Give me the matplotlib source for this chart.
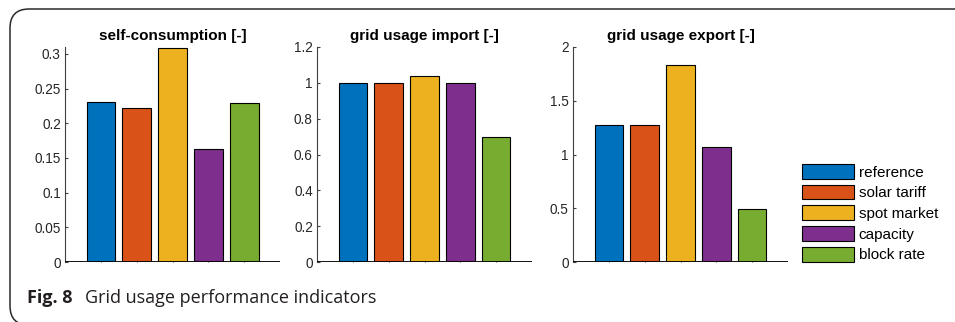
import numpy as np
import matplotlib.pyplot as plt
from matplotlib.patches import FancyBboxPatch

scenarios = ['reference', 'solar tariff', 'spot market', 'capacity', 'block rate']
colors = ['#0072BD', '#D95319', '#EDB120', '#7E2F8E', '#77AC30']

self_consumption = [0.230, 0.222, 0.309, 0.163, 0.229]
grid_import = [1.0, 1.0, 1.037, 1.0, 0.70]
grid_export = [1.279, 1.279, 1.83, 1.074, 0.495]

panels = [
    ('self-consumption [-]', self_consumption, 0.31, [0, 0.05, 0.1, 0.15, 0.2, 0.25, 0.3],
     ['0', '0.05', '0.1', '0.15', '0.2', '0.25', '0.3']),
    ('grid usage import [-]', grid_import, 1.2, [0, 0.2, 0.4, 0.6, 0.8, 1.0, 1.2],
     ['0', '0.2', '0.4', '0.6', '0.8', '1', '1.2']),
    ('grid usage export [-]', grid_export, 2.0, [0, 0.5, 1, 1.5, 2],
     ['0', '0.5', '1', '1.5', '2']),
]

plt.rcParams['font.family'] = ['Liberation Sans', 'DejaVu Sans']
W, H = 955, 322
fig = plt.figure(figsize=(W / 100, H / 100), dpi=100)

# axes boxes in pixels: left, right
boxes = [(65, 280), (317, 532), (573, 788)]
top_px, bot_px = 47, 262
axes_gray = '#404040'

x = np.arange(1, len(scenarios) + 1)
for (title, vals, ytop, yt, ytl), (l, r) in zip(panels, boxes):
    ax = fig.add_axes([l / W, (H - bot_px) / H, (r - l) / W, (bot_px - top_px) / H])
    bars = ax.bar(x, vals, width=0.8, color=colors, edgecolor='black', linewidth=0.8, zorder=2)
    ax.axhline(0, color='black', linewidth=1.3, zorder=3)
    ax.set_xlim(0, 6)
    ax.set_ylim(0, ytop)
    ax.set_yticks(yt)
    ax.set_yticklabels(ytl)
    ax.set_xticks(x)
    ax.set_xticklabels([])
    for s in ['top', 'right', 'bottom']:
        ax.spines[s].set_visible(False)
    ax.spines['left'].set_color(axes_gray)
    ax.spines['left'].set_linewidth(0.8)
    ax.tick_params(axis='both', direction='in', length=2.5, width=0.8, color=axes_gray,
                   labelsize=9.8, labelcolor='#262626', pad=3)
    ax.set_title(title, fontsize=11, fontweight='bold', pad=5)
    ax.patch.set_alpha(0)

fig.legend(bars, scenarios, loc='upper left', bbox_to_anchor=(802 / W, (H - 164) / H),
           frameon=False, fontsize=11, handlelength=3.4, handleheight=1.1,
           handletextpad=0.3, labelspacing=0.34, borderpad=0, borderaxespad=0)

# caption
fig.text(27 / W, (H - 303) / H, 'Fig. 8', fontsize=13, fontweight='bold',
         family='Open Sans', ha='left', va='baseline', color='#231f20')
fig.text(85 / W, (H - 303) / H, 'Grid usage performance indicators', fontsize=13,
         family='Open Sans', ha='left', va='baseline', color='#231f20')

# rounded frame around the figure
frame = FancyBboxPatch((10 / W, -3 / H), 1.2, (H - 9 + 3) / H - 0.0,
                       boxstyle='round,pad=0,rounding_size=0.02',
                       transform=fig.transFigure, fill=False, edgecolor='#2a2a2a',
                       linewidth=1.1, clip_on=False, mutation_aspect=W / H)
fig.patches.append(frame)

fig.savefig('out.png', dpi=100)
